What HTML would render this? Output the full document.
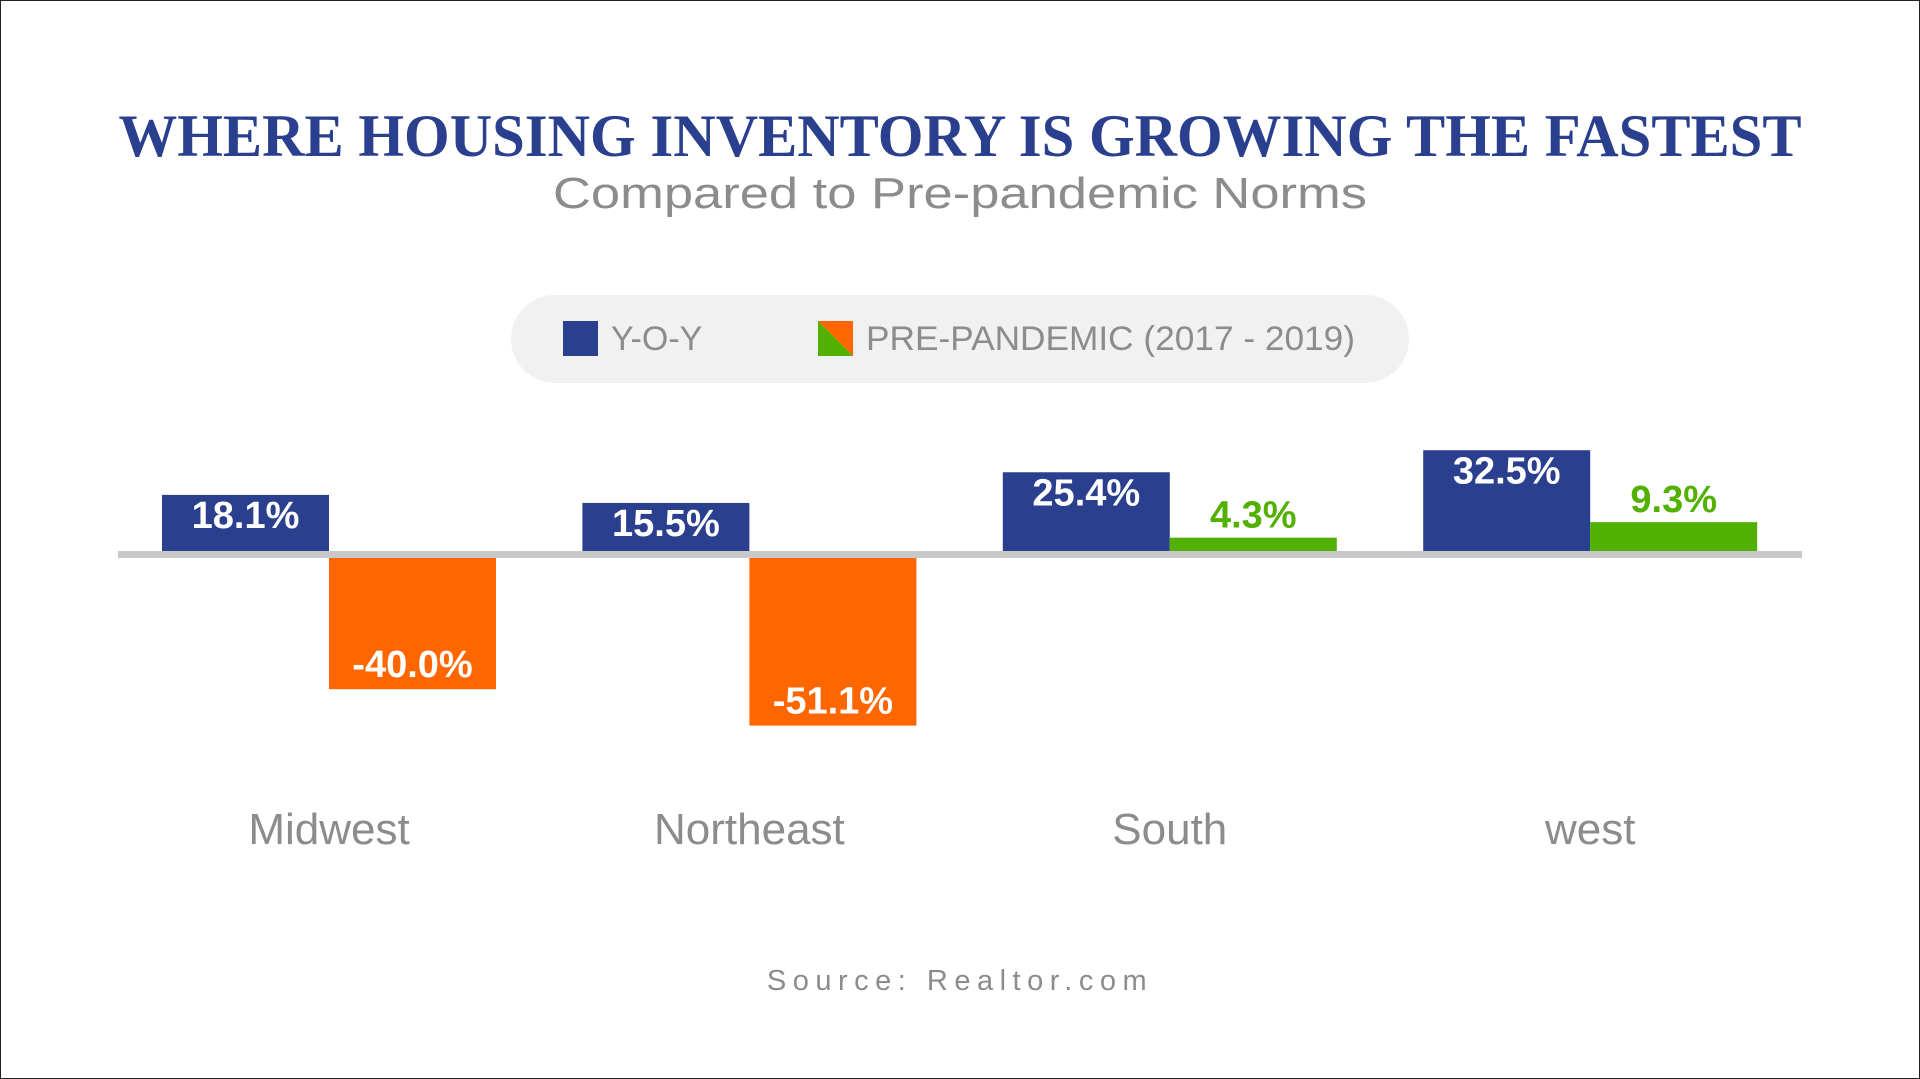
<!DOCTYPE html>
<html><head><meta charset="utf-8"><style>
html,body{margin:0;padding:0;background:#fff;}
svg{display:block;}
</style></head><body>
<svg id="chart" width="1920" height="1079" viewBox="0 0 1920 1079" xmlns="http://www.w3.org/2000/svg">
<rect x="0.5" y="0.5" width="1919" height="1078" fill="#fff" stroke="#222" stroke-width="1"/>
<text x="960" y="156" text-anchor="middle" font-family="Liberation Serif, serif" font-weight="bold" font-size="60" fill="#2b3f8f" textLength="1683" lengthAdjust="spacingAndGlyphs">WHERE HOUSING INVENTORY IS GROWING THE FASTEST</text>
<text x="960" y="208" text-anchor="middle" font-family="Liberation Sans, sans-serif" font-size="44" fill="#8c8c8c" textLength="814" lengthAdjust="spacingAndGlyphs">Compared to Pre-pandemic Norms</text>
<g>
<rect x="511" y="295" width="898" height="88" rx="44" fill="#f1f1f1"/>
<rect x="563" y="321" width="35" height="35" fill="#2b3f8f"/>
<text x="611" y="350" font-family="Liberation Sans, sans-serif" font-size="34" fill="#8c8c8c">Y-O-Y</text>
<polygon points="818,321 853,321 853,356" fill="#ff6600"/>
<polygon points="818,321 853,356 818,356" fill="#52b000"/>
<text x="866" y="350" font-family="Liberation Sans, sans-serif" font-size="34" fill="#8c8c8c" textLength="489" lengthAdjust="spacingAndGlyphs">PRE-PANDEMIC (2017 - 2019)</text>
</g>
<g id="bars"></g>
<rect x="118" y="551" width="1684" height="7" fill="#c8c8c8"/>
<text x="960" y="990" text-anchor="middle" font-family="Liberation Sans, sans-serif" font-size="29" fill="#8c8c8c" letter-spacing="6.5">Source: Realtor.com</text>
</svg>
<script>
const categories = ["Midwest", "Northeast", "South", "west"];
const yoyValues = [18.1, 15.5, 25.4, 32.5];
const preValues = [-40.0, -51.1, 4.3, 9.3];
const yoyLabels = ["18.1%", "15.5%", "25.4%", "32.5%"];
const preLabels = ["-40.0%", "-51.1%", "4.3%", "9.3%"];

const NS = "http://www.w3.org/2000/svg";
const g = document.getElementById('bars');
const zeroTop = 551, zeroBottom = 558, unitPos = 3.1, unitNeg = 3.28;
const groupX = i => 162 + i * 420.4;
const barW = 167;
function yPos(v){ return v >= 0 ? zeroTop - v*unitPos : zeroBottom - v*unitNeg; }
function mk(tag, attrs){ const e = document.createElementNS(NS, tag); for (const k in attrs) e.setAttribute(k, attrs[k]); return e; }

categories.forEach((c, i) => {
  const x0 = groupX(i);
  const v = yoyValues[i];
  const b1 = v>=0?zeroTop:zeroBottom;
  const yTop = Math.min(yPos(v), b1), yBot = Math.max(yPos(v), b1);
  const r1 = mk('rect', {x:x0, y:yTop, width:barW, height:yBot-yTop, fill:'#2b3f8f'});
  
  
  g.appendChild(r1);
  const t1 = mk('text', {x:x0+barW/2, y: v>=0 ? yTop+33 : yBot-12, 'text-anchor':'middle', 'font-family':'Liberation Sans, sans-serif', 'font-weight':'bold', 'font-size':'38', fill:'#fff'});
  t1.textContent = yoyLabels[i];
  
  
  g.appendChild(t1);
  const p = preValues[i];
  const x1 = x0 + barW;
  const base = p>=0 ? zeroTop : zeroBottom;
  const pTop = Math.min(yPos(p), base), pBot = Math.max(yPos(p), base);
  const col = p >= 0 ? '#52b000' : '#ff6600';
  const r2 = mk('rect', {x:x1, y:pTop, width:barW, height:pBot-pTop, fill:col});
  
  
  g.appendChild(r2);
  const t2 = mk('text', {x:x1+barW/2, y: p>=0 ? pTop-10 : pBot-12, 'text-anchor':'middle', 'font-family':'Liberation Sans, sans-serif', 'font-weight':'bold', 'font-size':'38', fill: p>=0 ? '#52b000' : '#fff'});
  t2.textContent = preLabels[i];
  
  
  g.appendChild(t2);
  const t3 = mk('text', {x:x0+barW, y:844, 'text-anchor':'middle', 'font-family':'Liberation Sans, sans-serif', 'font-size':'44', fill:'#8c8c8c'});
  t3.textContent = c;
  
  
  g.appendChild(t3);
});
</script>
</body></html>
